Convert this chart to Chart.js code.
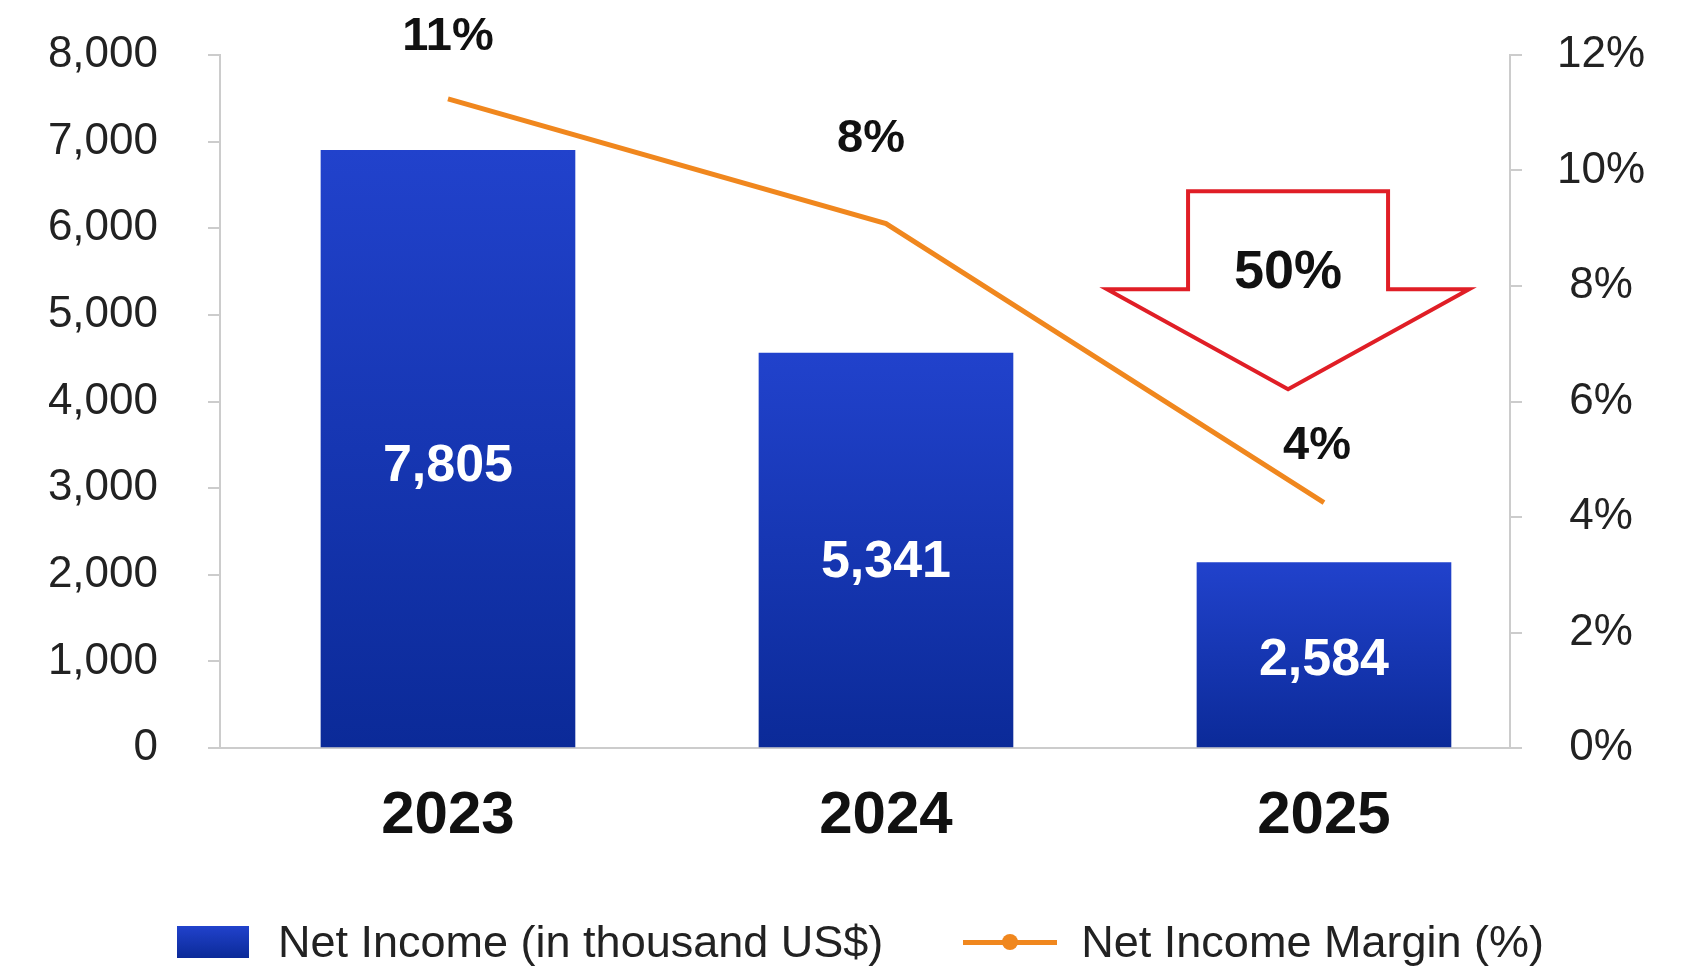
<!DOCTYPE html>
<html>
<head>
<meta charset="utf-8">
<title>Net Income</title>
<script src="https://cdn.jsdelivr.net/npm/chart.js@4.4.1/dist/chart.umd.min.js"></script>
<style>
  html, body { margin: 0; padding: 0; background: #fff; }
  .chart-container { position: relative; width: 1686px; height: 966px; }
  .legend {
    position: absolute; left: 177px; top: 916px; height: 52px;
    display: flex; align-items: center;
    font: 45px "Liberation Sans", Arial, sans-serif; color: #222;
  }
  .legend .box { width: 72px; height: 32px; background: linear-gradient(#2142cc, #0b2a98); margin-right: 29px; }
  .legend .line { position: relative; width: 94px; height: 5px; background: #f0871e; margin: 0 24px 0 80px; }
  .legend .line span {
    position: absolute; left: 39px; top: -6px; width: 16px; height: 16px;
    border-radius: 50%; background: #f0871e;
  }
</style>
</head>
<body>
<div class="chart-container">
  <canvas id="income-chart"></canvas>
  <div class="legend" id="legend"></div>
</div>
<script>
// values
const years = ['2023', '2024', '2025'];
const netIncome = [6900, 4560, 2140];
const netIncomeLabels = ['7,805', '5,341', '2,584'];
const netMargin = [11.24, 9.08, 4.25];
const marginLabels = ['11%', '8%', '4%'];
const incomeTicks = [0, 1000, 2000, 3000, 4000, 5000, 6000, 7000, 8000];
const marginTicks = [0, 2, 4, 6, 8, 10, 12];
const dropLabel = '50%';

const FONT = '"Liberation Sans", Arial, sans-serif';
Chart.defaults.font.family = FONT;

// label nudges, in pixels
const marginLabelDx = [0, -15, -7];
const marginLabelDy = [-62, -85, -57];

function barGradient(context) {
  const chart = context.chart;
  if (!chart.chartArea || context.type !== 'data') return '#1a36b8';
  const y = chart.scales.y;
  const top = y.getPixelForValue(context.parsed.y);
  const bottom = y.getPixelForValue(0);
  const g = chart.ctx.createLinearGradient(0, top, 0, bottom);
  g.addColorStop(0, '#2142cc');
  g.addColorStop(1, '#0b2a98');
  return g;
}

// y axes add their tick padding to the top margin; drop that so layout.padding decides
function fixAxis(width) {
  return (scale) => {
    scale.width = width;
    scale.paddingTop = 0;
    scale.paddingBottom = 0;
  };
}

const valueLabels = {
  id: 'valueLabels',
  afterDatasetsDraw(chart) {
    const c = chart.ctx;
    const y = chart.scales.y;
    c.save();
    c.textAlign = 'center';
    c.textBaseline = 'middle';
    c.font = 'bold 52px ' + FONT;
    c.fillStyle = '#ffffff';
    chart.getDatasetMeta(0).data.forEach((bar, i) => {
      c.fillText(netIncomeLabels[i], bar.x, y.getPixelForValue(netIncome[i] * 0.47));
    });
    c.font = 'bold 47px ' + FONT;
    c.fillStyle = '#111111';
    chart.getDatasetMeta(1).data.forEach((pt, i) => {
      c.fillText(marginLabels[i], pt.x + marginLabelDx[i], pt.y + marginLabelDy[i]);
    });
    c.restore();
  }
};

// red "down" arrow next to the 2025 values
const dropArrow = {
  id: 'dropArrow',
  afterDraw(chart) {
    const c = chart.ctx;
    const cx = chart.scales.x.getPixelForValue(1.918);
    const top = chart.scales.y1.getPixelForValue(9.64);
    const shaft = 100, head = 181, shaftH = 98, headH = 100;
    c.save();
    c.beginPath();
    c.moveTo(cx - shaft, top);
    c.lineTo(cx + shaft, top);
    c.lineTo(cx + shaft, top + shaftH);
    c.lineTo(cx + head, top + shaftH);
    c.lineTo(cx, top + shaftH + headH);
    c.lineTo(cx - head, top + shaftH);
    c.lineTo(cx - shaft, top + shaftH);
    c.closePath();
    c.fillStyle = '#ffffff';
    c.fill();
    c.lineWidth = 4;
    c.strokeStyle = '#e01e26';
    c.lineJoin = 'miter';
    c.stroke();
    c.font = 'bold 54px ' + FONT;
    c.fillStyle = '#111111';
    c.textAlign = 'center';
    c.textBaseline = 'middle';
    c.fillText(dropLabel, cx, top + 82);
    c.restore();
  }
};

const axisGrey = '#cccccc';

const ctx = document.getElementById('income-chart');
const chart = new Chart(ctx, {
  data: {
    datasets: [
      {
        type: 'bar',
        label: 'Net Income (in thousand US$)',
        data: netIncome.map((v, i) => ({ x: i, y: v })),
        backgroundColor: barGradient,
        barThickness: 254,
        yAxisID: 'y',
        order: 2,
      },
      {
        type: 'line',
        label: 'Net Income Margin (%)',
        data: netMargin.map((v, i) => ({ x: i, y: v })),
        borderColor: '#f0871e',
        borderWidth: 5,
        pointRadius: 0,
        tension: 0,
        yAxisID: 'y1',
        order: 1,
      },
    ],
  },
  options: {
    responsive: true,
    maintainAspectRatio: false,
    animation: false,
    layout: { padding: { top: 55, left: 0, right: 0, bottom: 0 } },
    plugins: {
      legend: { display: false },
      tooltip: { enabled: false },
    },
    scales: {
      x: {
        type: 'linear',
        offset: false,
        min: -0.5205,
        max: 2.4247,
        grid: { display: false },
        border: { display: true, color: axisGrey, width: 2 },
        afterBuildTicks: (scale) => { scale.ticks = years.map((_, i) => ({ value: i })); },
        afterFit: (scale) => { scale.height = 218; },
        ticks: {
          callback: (value) => years[value],
          font: { size: 60, weight: 'bold' },
          color: '#111111',
          padding: 24,
          maxRotation: 0,
        },
      },
      y: {
        position: 'left',
        min: 0,
        max: 8000,
        afterBuildTicks: (scale) => { scale.ticks = incomeTicks.map((v) => ({ value: v })); },
        afterFit: fixAxis(220),
        grid: { drawOnChartArea: false, drawTicks: true, tickLength: 12, color: axisGrey, lineWidth: 2 },
        border: { display: true, color: axisGrey, width: 2 },
        ticks: {
          callback: (value) => value.toLocaleString('en-US'),
          font: { size: 44 },
          color: '#222222',
          padding: 50,
        },
      },
      y1: {
        position: 'right',
        min: 0,
        max: 12,
        afterBuildTicks: (scale) => { scale.ticks = marginTicks.map((v) => ({ value: v })); },
        afterFit: fixAxis(176),
        grid: { drawOnChartArea: false, drawTicks: true, tickLength: 12, color: axisGrey, lineWidth: 2 },
        border: { display: true, color: axisGrey, width: 2 },
        ticks: {
          callback: (value) => value + '%',
          font: { size: 44 },
          color: '#222222',
          padding: 35,
          crossAlign: 'center',
        },
      },
    },
  },
  plugins: [valueLabels, dropArrow],
});

// html legend built from the datasets
const legend = document.getElementById('legend');
chart.data.datasets.forEach((ds) => {
  const mark = document.createElement('div');
  if (ds.type === 'bar') {
    mark.className = 'box';
  } else {
    mark.className = 'line';
    mark.appendChild(document.createElement('span'));
  }
  const text = document.createElement('span');
  text.textContent = ds.label;
  legend.appendChild(mark);
  legend.appendChild(text);
});
</script>
</body>
</html>
